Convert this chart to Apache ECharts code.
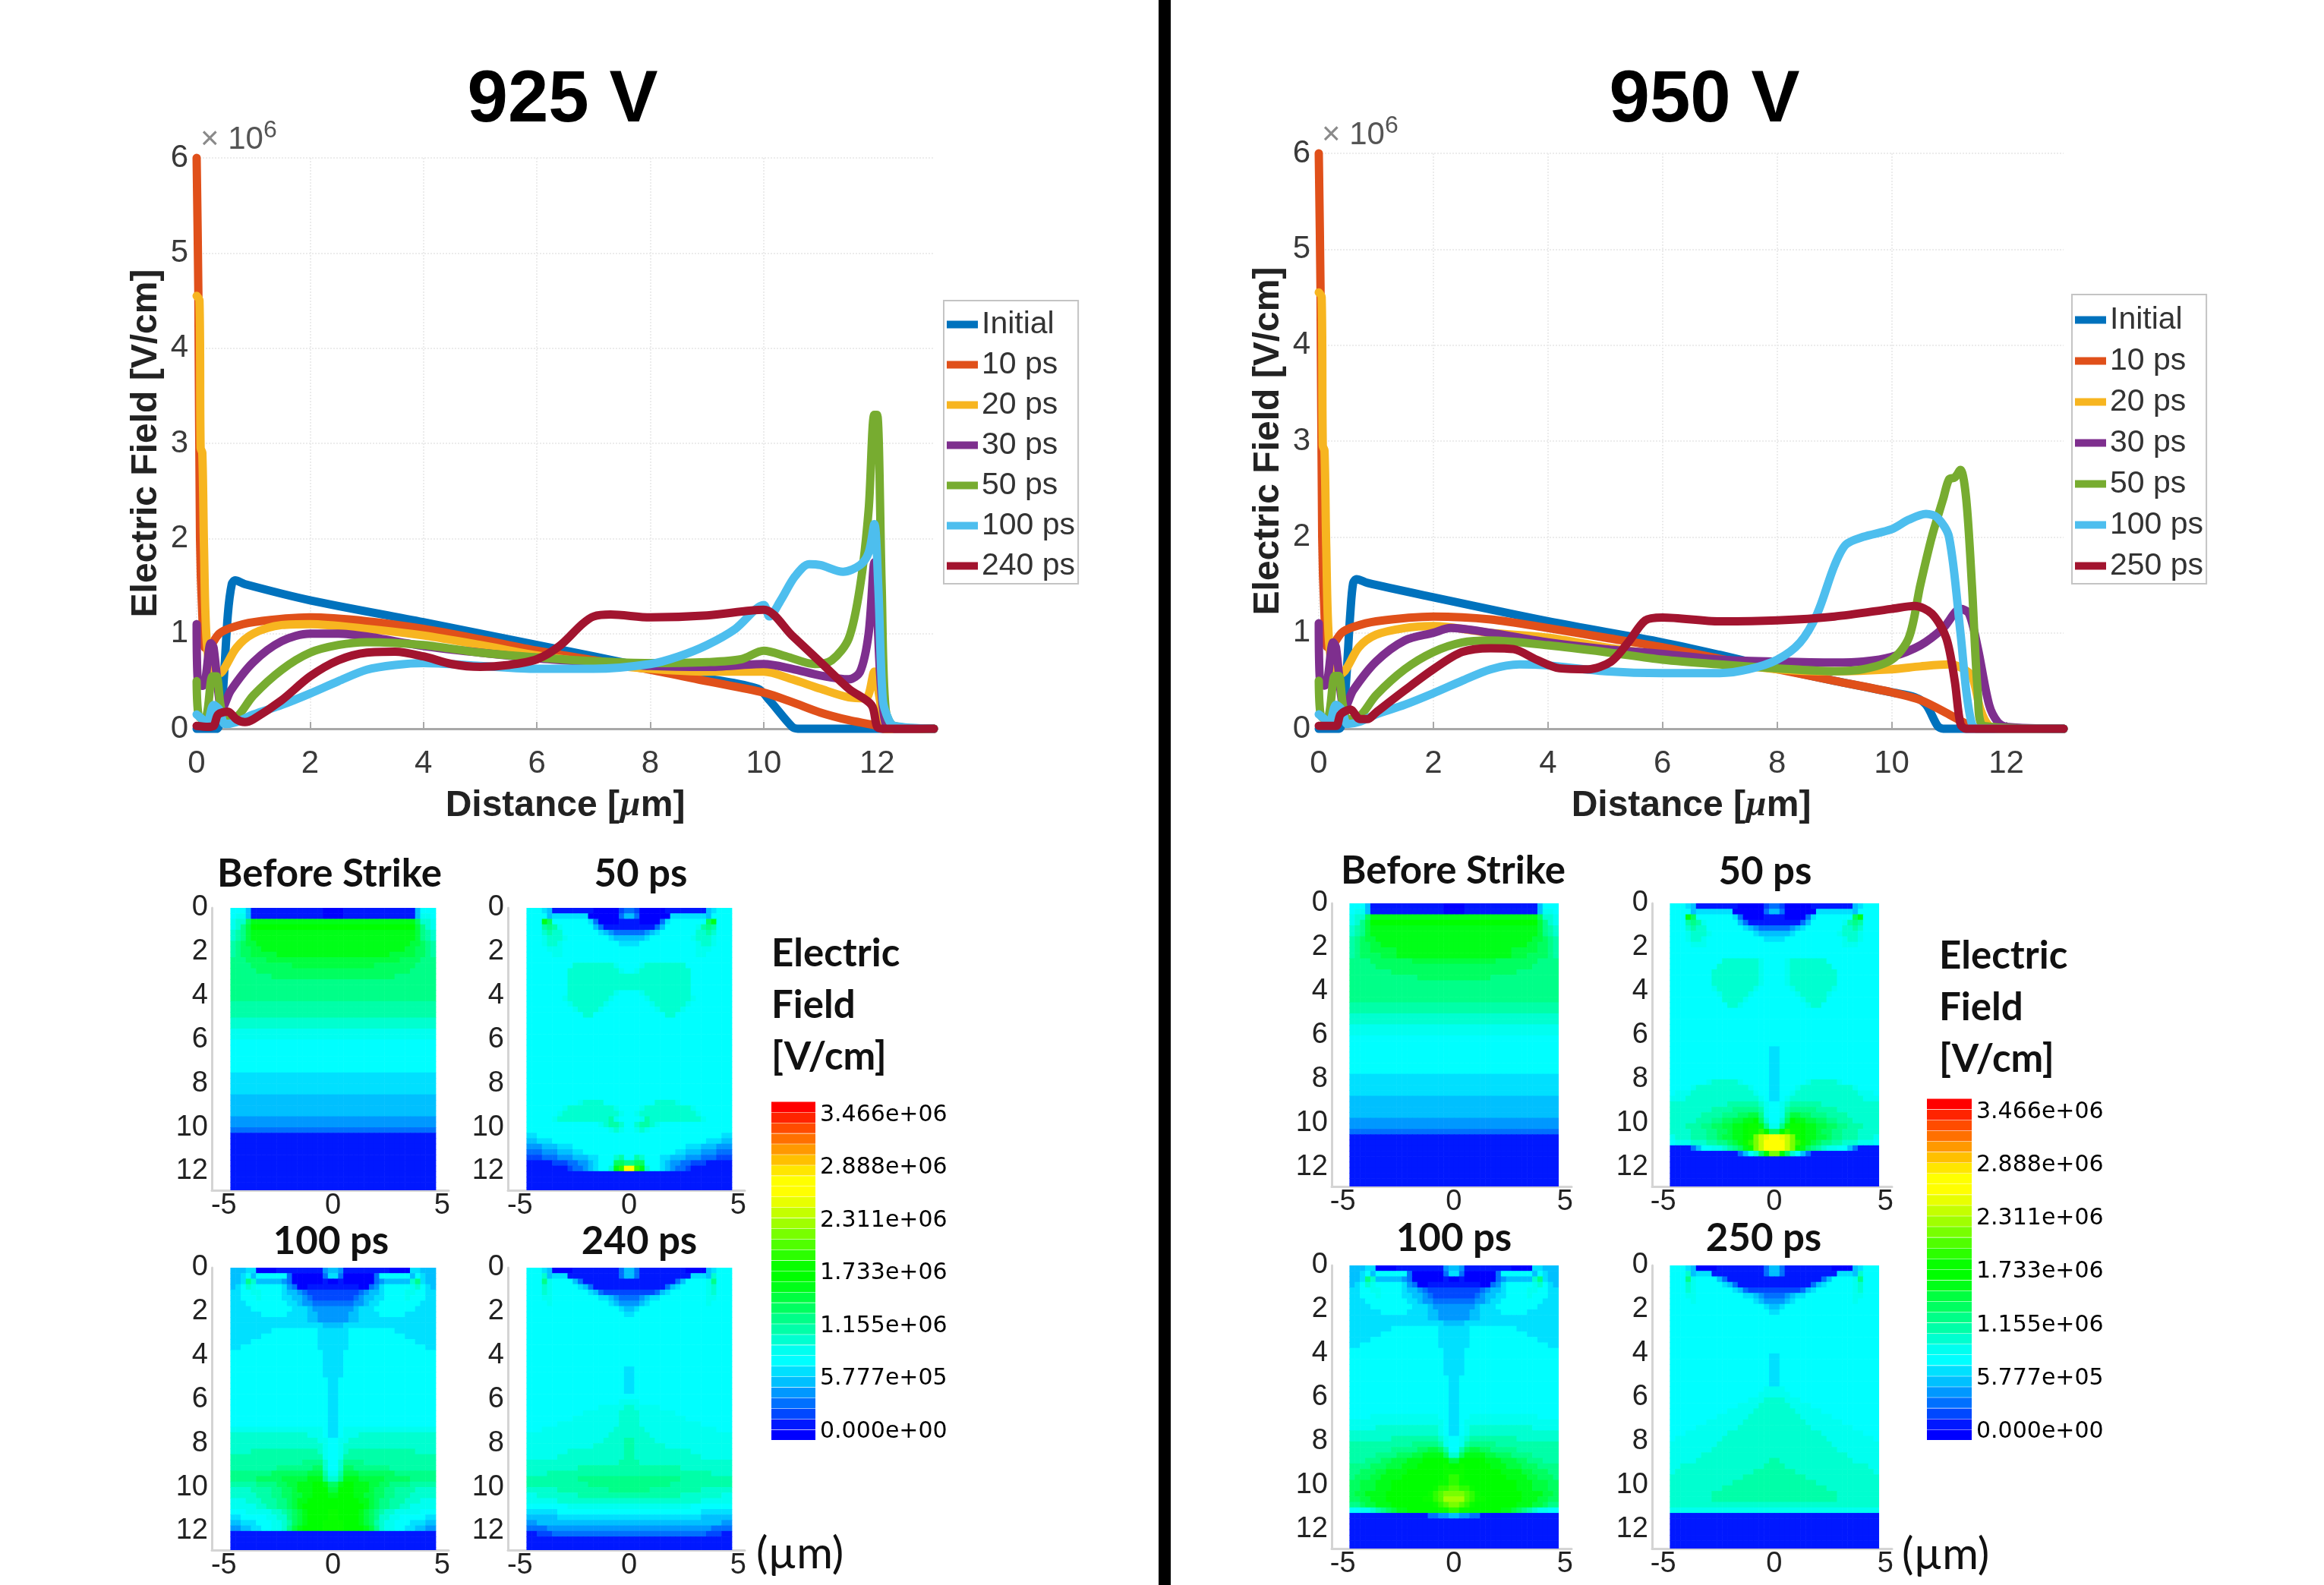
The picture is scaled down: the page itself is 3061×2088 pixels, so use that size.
<!DOCTYPE html>
<html>
<head>
<meta charset="utf-8">
<title>925 V / 950 V electric field</title>
<script src="https://cdn.jsdelivr.net/npm/echarts@6/dist/echarts.min.js"></script>
<style>
  html, body { margin: 0; background: #fff; }
  #chart { width: 3061px; height: 2088px; }
</style>
</head>
<body>
<div id="chart"></div>
<script>
// line plots, [distance um, field x10^6 V/cm]
const initial925 = [[0,0],[.35,0],[.45,.3],[.55,1.2],[.62,1.52],[.68,1.56],[.85,1.52],[2,1.35],[4,1.12],[6,.88],[7,.76],[8,.64],[9,.53],[9.9,.42],[10.1,.3],[10.5,.02],[10.6,0],[12,0],[13,0]]
const ps10_925 = [[0,6],[.03,4.6],[.06,2],[.1,1.2],[.15,.85],[.25,.88],[.4,1],[.6,1.06],[1,1.12],[2,1.17],[3,1.13],[4,1.05],[5,.94],[6,.82],[7,.72],[8,.62],[9,.5],[10,.38],[10.5,.28],[11,.17],[11.5,.09],[12,.03],[12.1,0],[13,0]]
const ps20_925 = [[0,4.55],[.05,4.5],[.07,2.95],[.1,2.9],[.13,1.9],[.18,.9],[.3,.55],[.45,.6],[.7,.85],[1,1],[1.5,1.09],[2,1.1],[3,1.05],[4,.98],[5,.88],[6,.77],[7,.69],[8,.63],[9,.6],[10,.6],[10.5,.52],[11,.42],[11.5,.33],[11.8,.32],[11.95,.6],[12.05,.3],[12.15,0],[13,0]]
const ps30_925 = [[0,1.1],[.02,.5],[.1,.45],[.15,.5],[.25,.9],[.3,.85],[.4,.3],[.45,.22],[.6,.4],[1,.7],[1.5,.92],[2,1],[2.5,1],[3,.97],[4,.87],[5,.8],[6,.74],[7,.7],[8,.66],[9,.65],[10,.68],[10.5,.63],[11,.56],[11.5,.52],[11.7,.6],[11.85,1],[11.95,1.75],[12.05,.6],[12.15,.05],[12.3,0],[13,0]]
const ps50_925 = [[0,.5],[.03,.15],[.1,.1],[.18,.15],[.28,.55],[.35,.55],[.42,.25],[.5,.1],[.7,.12],[1,.35],[1.5,.62],[2,.8],[2.5,.88],[3,.91],[4,.88],[5,.8],[6,.75],[7,.71],[8,.69],[9,.7],[9.6,.73],[10,.82],[10.4,.76],[10.9,.68],[11.2,.72],[11.5,.95],[11.7,1.5],[11.85,2.3],[11.95,3.3],[12,3.3],[12.08,1.5],[12.15,.2],[12.3,.03],[13,0]]
const ps100_925 = [[0,.15],[.1,.1],[.18,.05],[.3,.25],[.4,.2],[.5,.05],[.7,.07],[1,.15],[1.5,.25],[2,.37],[2.5,.5],[3,.62],[3.5,.67],[4,.69],[5,.66],[6,.63],[7,.63],[8,.68],[8.5,.76],[9,.88],[9.5,1.05],[10,1.3],[10.1,1.18],[10.3,1.35],[10.55,1.6],[10.8,1.73],[11,1.72],[11.4,1.65],[11.7,1.72],[11.85,1.85],[11.95,2.15],[12.02,1.5],[12.1,.3],[12.2,.1],[12.3,.03],[13,0]]
const ps240_925 = [[0,.03],[.2,.02],[.3,.03],[.38,.15],[.55,.18],[.7,.1],[.85,.07],[1,.1],[1.5,.3],[2,.55],[2.5,.72],[3,.8],[3.5,.81],[4,.76],[4.5,.68],[5,.65],[5.5,.67],[6,.73],[6.4,.87],[6.8,1.1],[7,1.18],[7.3,1.2],[8,1.17],[9,1.19],[10,1.25],[10.5,.98],[11,.7],[11.5,.42],[11.9,.25],[12,.02],[12.1,0],[13,0]]

const initial950 = [[0,0],[.35,0],[.45,.3],[.55,1.2],[.6,1.52],[.66,1.56],[.85,1.52],[2,1.37],[4,1.12],[6,.9],[7,.77],[8,.63],[9,.5],[10,.38],[10.4,.33],[10.6,.25],[10.8,.03],[10.9,0],[13,0]]
const ps10_950 = [[0,6],[.03,4.6],[.06,2],[.1,1.2],[.15,.85],[.25,.88],[.4,1],[.6,1.06],[1,1.12],[2,1.17],[3,1.14],[4,1.05],[5,.95],[6,.85],[7,.73],[8,.62],[9,.5],[10,.38],[10.5,.3],[11,.15],[11.3,.05],[11.5,0],[13,0]]
const ps20_950 = [[0,4.55],[.05,4.5],[.07,2.95],[.1,2.9],[.13,1.9],[.18,.9],[.3,.55],[.45,.6],[.7,.85],[1,.98],[1.5,1.05],[2,1.07],[3,1],[4,.95],[5,.85],[6,.77],[7,.7],[8,.62],[9,.6],[10,.62],[10.5,.65],[11,.67],[11.2,.64],[11.4,.55],[11.55,.2],[11.7,.03],[11.9,0],[13,0]]
const ps30_950 = [[0,1.1],[.02,.5],[.1,.45],[.15,.5],[.25,.9],[.3,.85],[.4,.3],[.45,.22],[.6,.4],[1,.7],[1.5,.92],[2,1],[2.3,1.05],[3,1],[4,.9],[5,.83],[6,.78],[7,.72],[8,.7],[9,.69],[9.5,.7],[10,.75],[10.5,.87],[10.9,1.05],[11.2,1.25],[11.35,1.2],[11.5,.85],[11.7,.25],[11.85,.07],[12,.02],[13,0]]
const ps50_950 = [[0,.5],[.03,.15],[.1,.1],[.18,.15],[.28,.55],[.35,.55],[.42,.25],[.5,.1],[.7,.12],[1,.35],[1.5,.62],[2,.8],[2.5,.9],[3,.92],[4,.87],[5,.8],[6,.72],[7,.67],[8,.63],[9,.6],[9.5,.62],[10,.72],[10.3,.95],[10.5,1.5],[10.7,2],[10.9,2.4],[11,2.6],[11.1,2.62],[11.2,2.7],[11.3,2.4],[11.4,1.5],[11.5,.4],[11.6,.03],[13,0]]
const ps100_950 = [[0,.15],[.1,.1],[.18,.05],[.3,.25],[.4,.2],[.5,.05],[.7,.07],[1,.15],[1.5,.25],[2,.37],[2.5,.5],[3,.62],[3.5,.67],[4,.66],[5,.6],[6,.58],[7,.58],[7.5,.62],[8,.72],[8.4,.9],[8.7,1.2],[9,1.7],[9.2,1.92],[9.5,2],[10,2.08],[10.3,2.18],[10.6,2.24],[10.8,2.2],[11,2],[11.2,1],[11.3,.4],[11.4,.05],[11.5,0],[13,0]]
const ps250_950 = [[0,.03],[.3,.03],[.38,.15],[.55,.2],[.72,.1],[.85,.1],[1,.17],[1.5,.4],[2,.62],[2.5,.8],[3,.84],[3.4,.83],[3.8,.72],[4.2,.63],[4.7,.62],[5.1,.7],[5.4,.9],[5.7,1.13],[6,1.16],[7,1.12],[8,1.13],[9,1.17],[10,1.25],[10.4,1.28],[10.7,1.2],[10.95,.95],[11.1,.5],[11.2,.05],[11.3,0],[13,0]]

const names925 = ['Initial', '10 ps', '20 ps', '30 ps', '50 ps', '100 ps', '240 ps']
const names950 = ['Initial', '10 ps', '20 ps', '30 ps', '50 ps', '100 ps', '250 ps']
const lineColors = ['#0072bd', '#e0501a', '#f7b520', '#7e2f8e', '#77ac30', '#4dbeee', '#a2142f']
const distanceTicks = [0, 2, 4, 6, 8, 10, 12]

// contour colour bands, bottom to top
const bandColors = ['#0000ff','#0018ff','#0048ff','#0070ff','#0098ff','#00c0ff','#00e0ff','#00ffff',
  '#00fff0','#00ffd0','#00ffa8','#00ff88','#00ff60','#00ff40','#00ff18','#00ff00',
  '#08ff00','#2cff00','#50ff00','#78ff00','#a0ff00','#c4ff00','#e8ff00','#ffff00',
  '#ffff00','#ffe600','#ffc000','#ff9900','#ff7000','#ff4c00','#ff2400','#ff0000']
const colourbarTicks = [0, 577700, 1155000, 1733000, 2311000, 2888000, 3466000]
const colourbarLabels = ['0.000e+00', '5.777e+05', '1.155e+06', '1.733e+06', '2.311e+06', '2.888e+06', '3.466e+06']

// contour panels: one string per 0.25 um of depth, left edge to centre in 20 cells,
// base-32 band index, last char fills up to the centre, ":n" repeats the row
const beforeStrike925 = ['7775111111111111110','7885111111111111110','899ce','89bdf','9abde:2','abcdde','abccdde','abccddddde','bbbccccd','bbbbccccccccd','bbbbbc','bbbbbbbbc','b:4','a:3','9:2','8:2','7:6','6:4','5:4','4:2','3','1:11']
const ps50Panel925 = ['77765111111110000023','77775666666600000035','777ec777777763000011','777aba8777777531','7779a9977777776543','7778999877777777655','7778998777777777776','7777888777','7777788777','7','7777777779999999987','77777777999999999987','777777779:3','7777777799999999987','77777778999999998777','7777777789999998777','7777777778999987','77777777777997','7:15','7777777777899997','77777778999999999877','77777789999999999987','7777789999999999a87','7777777777777789aa97','77777777777777778987','667','5566677','4445556667','33344455566777','222333444555667779a7','11111222334456777ccb','11111111233456779ehn','1:4']
const ps100Panel925 = ['55566000011111111145','55675777777300000036','556b9555554300000010','56798777776430011111','66778877776554322','66777877776655432','666777777776654433','66667777777766654','66666677777666655444','66666666666666655444','66666666666666666655','66666666777777777666','66666677777777777666','66667777777777777666','66777777777777777666','77777777777777777766','77777777777777777766:4','77777777777777777776:9','88888888888888888876','99999999999999988876','99999999999999999887','99999999999999999987','9999aaaaaaaaaaaaa987','aaaaaaaaaaaaaaaaaa87','aaaaaaaaaaaaaabbbb97','aaaaaaaaabbbbbbbcc97','bbbbbbbbcccccccddda8','bbbbbcccccdddddeeeb9','aaaaabbbbccddeeeffec','9999aaaabbccdeeefffd','99999aaabbccddeefffe','888999aaabbcdeefffff','8888899aabbcdeffffff','7778888899abcdeffffg','66777778899bcdeffffg','55666777889acdefffgg','44556677889bdeffffgg','1:4']
const ps240Panel925 = ['77765000011111111135','77795666111111111135','777b87777531','77798777776531','7779877777776532','7778877777777766543','7777877777777777654','77777777777777777765','77777777777777777776','7:9','77777777777777777776:5','7','77777777777777777788','77777777777777888889','77777777777888888899','77777777788888888899','77777788888888888899','77788888888888888999','88888888888888889999','8888888888888889999a','8888888888888999999a','8888888899999999999a','8888889999999999999a','999999999999999999aa','9999999999aaaaaaaaaa','9999aaaaaaaaaaaaaaaa','aaaaaaaaaabbbbbbbbbb','aaaaaaaaaaaabbbbbbbb','999999aaaaaaaaaabbbb','8899999999aaaaaaaaaa','88888899999999999999','77777777888888888888','66666677777777777777','55555566666666666666','4455555','3333444','1122233','1:3']

const beforeStrike950 = ['7775111111111111110','7885111111111111110','899ce','89bdf','9abde:2','abcdde','abccdde','abccddddde','abccccddde','bbbbccccccccd','bbbbbc','bbbbbbbbc','bbbbbbbbbbbbbc','b:4','a:2','9:2','8:2','7:7','6:4','5:4','4:2','3','1:10']
const ps50Panel950 = ['77765111111110000023','77775666666600000035','777ec777777763000011','777aba8777777531','7779a9977777776543','7778999877777777655','7778998777777777776','7777888777','7:2','77777777779999999877','77777777799999999877','77777777999999999877:3','77777777899999998777','77777777789999987','7777777777999987','777777777779987','7:7','77777777777777777776:6','77777778999998777776','77778999999999987776','78889999999999998776','88899999999999999876','99999999999aaaaaa987','99999999aaaabbbbba87','999999aaaabbbccddb87','99999aaabbccddeefc97','999aaabbccddeefggeb8','9999aaabbccdeefgghfc','8999aaabbcddeefgjlmn','7888999aabbcdeghjlnn','11113577889abcegjlnn','11111111111113579cfj','1:6']
const ps100Panel950 = ['55566000011111111145','55675777777300000036','556b9555554300000010','56798777776430011111','66778877776554322','66777877776655432','666777777776654433','66667777777766654','66666677777666655444','66666666666666655444','66666666666666666655','66666666777777777666','66666677777777777666','66667777777777777666','66777777777777777666','77777777777777777766','77777777777777777766:4','77777777777777777776:7','77778888888888888776','88888888888888888876','88888999999999999876','99999999999999999876','99999999aaaaaaaaa987','aaaaaaaaaaaabbbbba87','aaaaaaaabbbbbccddca7','aaaaabbbbcccddeeeec9','aaabbbccdddeeefffffd','bbbbcccdddeeefffffgf','bbcccddeeeefffffffgg','bcccddeeeeffffffffgh','ccdddeeefffffffffggh','ccdddeeeffffffffghhi','cddeeeeffffffffghijj','ccddeeefffffffgghikk','bbcddeeeffffffffghij','77889abcdeeffffffggh','11111111111111133445','1:6']
const ps250Panel950 = ['77765000011111111135','77795666111111111135','777b87777531','77798777776531','7779877777776532','7778877777777766543','7777877777777777654','77777777777777777765','77777777777777777776','7:7','77777777777777777776:6','77777777777777777788','77777777777777777888','77777777777777788899','77777777777778888999','77777777777888889999','77777777788888899999','77777778888888999999','77777888888889999999','77788888888999999999','78888888889999999999','88888888899999999999','88888888999999999999','88888899999999999999','8888899999999999999a','889999999999999999aa','8999999999999999aaaa','99999999999999aaaaaa','999999999999aaaaaaaa','9999999999aaaaaaaaaa','99999999aaaaaaaaaaaa','99999999aaaaaaaaaaaa','9','8','1:8']

const panelCols = 20
const panelRows = 52
const panelHalfWidth = 4.7
const rowDepth = 0.25
const depthMax = 12.87
const depthTicks = [0, 2, 4, 6, 8, 10, 12]
const widthTicks = [-5, 0, 5]

function decodePanel(rows) {
  const out = []
  rows.forEach(r => {
    const [cells, n] = r.split(':')
    const row = cells.padEnd(panelCols, cells[cells.length - 1])
    for (let i = 0; i < (n ? +n : 1); i++) out.push(row)
  })
  return out
}

// cell data for one panel, mirrored about x = 0
function panelCells(rows) {
  const grid = decodePanel(rows)
  const w = panelHalfWidth / panelCols
  const cells = []
  grid.slice(0, panelRows).forEach((row, r) => {
    for (let c = 0; c < panelCols * 2; c++) {
      const ch = row[c < panelCols ? c : panelCols * 2 - 1 - c]
      const x0 = -panelHalfWidth + c * w
      cells.push([x0, x0 + w, r * rowDepth, (r + 1) * rowDepth, parseInt(ch, 32)])
    }
  })
  return cells
}

function renderCell(params, api) {
  const a = api.coord([api.value(0), api.value(2)])
  const b = api.coord([api.value(1), api.value(3)])
  return {
    type: 'rect',
    shape: { x: a[0], y: a[1], width: b[0] - a[0] + 0.6, height: b[1] - a[1] + 0.6 },
    style: { fill: bandColors[api.value(4)] },
  }
}

const grid = [], xAxis = [], yAxis = [], series = [], legend = [], title = []

function addLinePlot(rect, names, lines, legendBox, legendGap, legendPad) {
  const idx = grid.length
  grid.push({ left: rect[0], top: rect[1], width: rect[2], height: rect[3] })
  xAxis.push({
    gridIndex: idx, type: 'value', min: 0, max: 13, interval: 2,
    name: '{t|Distance [}{i|µ}{t|m]}', nameLocation: 'middle', nameGap: 78,
    nameTextStyle: { rich: {
      t: { fontFamily: 'Liberation Sans', fontWeight: 'bold', fontSize: 48, color: '#222' },
      i: { fontFamily: 'Liberation Serif', fontStyle: 'italic', fontWeight: 'bold', fontSize: 48, color: '#222' },
    } },
    axisLine: { lineStyle: { color: '#a8a8a8', width: 3 } },
    axisTick: { inside: true, length: 9, customValues: distanceTicks, lineStyle: { color: '#a8a8a8', width: 2 } },
    axisLabel: { customValues: distanceTicks, fontFamily: 'Liberation Sans', fontSize: 42, color: '#3a3a3a', margin: 25 },
    splitLine: { show: true, showMaxLine: false, lineStyle: { type: 'dotted', color: '#ececec', width: 2 } },
  })
  yAxis.push({
    gridIndex: idx, type: 'value', min: 0, max: 6, interval: 1,
    name: 'Electric Field [V/cm]', nameLocation: 'middle', nameGap: 42,
    nameTextStyle: { fontFamily: 'Liberation Sans', fontWeight: 'bold', fontSize: 48, color: '#222' },
    axisLine: { show: false }, axisTick: { show: false },
    axisLabel: { fontFamily: 'Liberation Sans', fontSize: 42, color: '#3a3a3a', margin: 11 },
    splitLine: { show: true, lineStyle: { type: 'dotted', color: '#ececec', width: 2 } },
  })
  lines.forEach((data, i) => series.push({
    type: 'line', name: names[i], data, xAxisIndex: idx, yAxisIndex: idx,
    showSymbol: false, symbol: 'none', clip: false, smooth: 0.3,
    itemStyle: { color: lineColors[i] },
    lineStyle: { color: lineColors[i], width: 11, join: 'round', cap: 'round' },
    z: 3 + i,
  }))
  legend.push({
    data: names, orient: 'vertical', left: legendBox[0], top: legendBox[1], width: legendBox[2],
    padding: legendPad, icon: 'rect', itemWidth: 41, itemHeight: 10, itemGap: legendGap,
    borderColor: '#c4c4c4', borderWidth: 2, backgroundColor: '#fff',
    textStyle: { fontFamily: 'Liberation Sans', fontSize: 41, color: '#333' },
    selectedMode: false,
  })
}

function addPanel(rect, rows, xRange) {
  const idx = grid.length
  grid.push({ left: rect[0], top: rect[1], width: rect[2], height: rect[3] })
  const tickLabel = { fontFamily: 'Liberation Sans', fontSize: 38, color: '#222' }
  xAxis.push({
    gridIndex: idx, type: 'value', min: xRange[0], max: xRange[1],
    axisLine: { onZero: false, lineStyle: { color: '#d4d4d4', width: 3 } },
    axisTick: { show: false, customValues: widthTicks },
    axisLabel: { ...tickLabel, customValues: widthTicks, margin: 2, hideOverlap: false },
    splitLine: { show: false },
  })
  yAxis.push({
    gridIndex: idx, type: 'value', inverse: true, min: 0, max: depthMax,
    axisLine: { onZero: false, lineStyle: { color: '#d4d4d4', width: 3 } },
    axisTick: { show: false, customValues: depthTicks },
    axisLabel: { ...tickLabel, customValues: depthTicks, margin: 5, hideOverlap: false },
    splitLine: { show: false },
  })
  series.push({
    type: 'custom', xAxisIndex: idx, yAxisIndex: idx, data: panelCells(rows),
    renderItem: renderCell, clip: true, silent: true, progressive: 0,
    encode: { x: [0, 1], y: [2, 3] },
  })
}

function addColourbar(rect) {
  const idx = grid.length
  const fieldMin = -91000, fieldMax = 3615000
  const step = (fieldMax - fieldMin) / bandColors.length
  grid.push({ left: rect[0], top: rect[1], width: rect[2], height: rect[3] })
  xAxis.push({ gridIndex: idx, type: 'value', min: 0, max: 1, show: false })
  yAxis.push({
    gridIndex: idx, type: 'value', min: fieldMin, max: fieldMax, position: 'right',
    axisLine: { show: false }, axisTick: { show: false, customValues: colourbarTicks },
    axisLabel: {
      customValues: colourbarTicks, fontFamily: 'DejaVu Sans', fontSize: 30, color: '#000', margin: 6,
      hideOverlap: false, formatter: v => colourbarLabels[colourbarTicks.indexOf(v)],
    },
    splitLine: { show: false },
  })
  series.push({
    type: 'custom', xAxisIndex: idx, yAxisIndex: idx,
    data: bandColors.map((c, i) => [0, 1, fieldMin + i * step, fieldMin + (i + 1) * step, i]),
    renderItem: renderCell, clip: true, silent: true, progressive: 0,
    encode: { x: [0, 1], y: [2, 3] },
  })
}

function addText(text, left, top, style, align) {
  title.push({
    text, left, top, padding: 0, textAlign: align || 'center', textVerticalAlign: 'middle',
    textStyle: style,
  })
}

const headStyle = { fontFamily: 'Liberation Sans', fontWeight: 'bold', fontSize: 96, color: '#000' }
const panelHead = { fontFamily: 'Lato', fontWeight: 'bold', fontSize: 51, color: '#111' }
const fieldHead = { fontFamily: 'Lato', fontWeight: 'bold', fontSize: 51, lineHeight: 68, color: '#111' }
const unitStyle = { fontFamily: 'Lato', fontWeight: 'normal', fontSize: 58, color: '#111' }
const exponentStyle = { fontWeight: 'normal', rich: {
  x: { fontFamily: 'Liberation Sans', fontWeight: 'normal', fontSize: 42, color: '#8a8a8a' },
  b: { fontFamily: 'Liberation Sans', fontWeight: 'normal', fontSize: 42, color: '#555', lineHeight: 56 },
  s: { fontFamily: 'Liberation Sans', fontWeight: 'normal', fontSize: 32, color: '#555', verticalAlign: 'top', lineHeight: 30 },
} }
const exponentText = '{x|× }{b|10}{s|6}'

// 925 V side
addLinePlot([259, 208, 971, 752], names925,
  [initial925, ps10_925, ps20_925, ps30_925, ps50_925, ps100_925, ps240_925], [1243, 396, 185], 12, [11, 4, 3, 4])
addPanel([279, 1196, 312, 372], beforeStrike925, [-5.55, 5.3])
addPanel([669, 1196, 312, 372], ps50Panel925, [-5.55, 5.3])
addPanel([279, 1670, 312, 372], ps100Panel925, [-5.55, 5.3])
addPanel([669, 1670, 312, 372], ps240Panel925, [-5.55, 5.3])
addColourbar([1016, 1451, 58, 446])
addText('925 V', 741, 134, headStyle)
addText('Before Strike', 434, 1152, panelHead)
addText('50 ps', 844, 1152, panelHead)
addText('100 ps', 436, 1636, panelHead)
addText('240 ps', 842, 1636, panelHead)
addText('Electric\nField\n[V/cm]', 1016, 1325, fieldHead, 'left')
addText('(µm)', 996, 2047, unitStyle, 'left')
addText(exponentText, 264, 184, exponentStyle, 'left')

// 950 V side
addLinePlot([1737, 202, 981, 758], names950,
  [initial950, ps10_950, ps20_950, ps30_950, ps50_950, ps100_950, ps250_950], [2729, 388, 193], 13, [13, 4, 3, 4])
addPanel([1754, 1190, 316, 373], beforeStrike950, [-5.5, 5.3])
addPanel([2176, 1190, 316, 373], ps50Panel950, [-5.5, 5.3])
addPanel([1754, 1667, 316, 373], ps100Panel950, [-5.5, 5.3])
addPanel([2176, 1667, 316, 373], ps250Panel950, [-5.5, 5.3])
addColourbar([2538, 1447, 59, 450])
addText('950 V', 2245, 134, headStyle)
addText('Before Strike', 1914, 1148, panelHead)
addText('50 ps', 2325, 1149, panelHead)
addText('100 ps', 1915, 1632, panelHead)
addText('250 ps', 2323, 1632, panelHead)
addText('Electric\nField\n[V/cm]', 2554, 1328, fieldHead, 'left')
addText('(µm)', 2505, 2048, unitStyle, 'left')
addText(exponentText, 1741, 178, exponentStyle, 'left')

const chart = echarts.init(document.getElementById('chart'), null, { renderer: 'canvas' })
chart.setOption({
  backgroundColor: '#fff',
  animation: false,
  grid, xAxis, yAxis, series, legend, title,
  graphic: [{ type: 'rect', left: 1526, top: 0, shape: { width: 16, height: 2088 }, style: { fill: '#000' } }],
})
</script>
</body>
</html>
